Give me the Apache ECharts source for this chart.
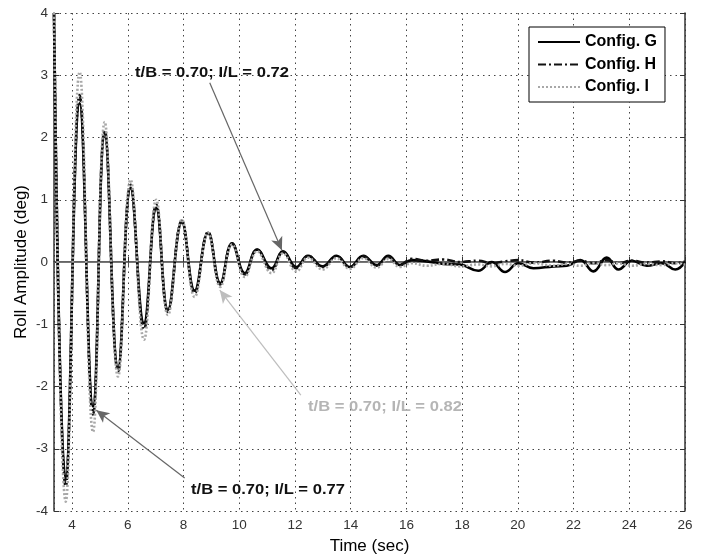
<!DOCTYPE html>
<html>
<head>
<meta charset="utf-8">
<script src="https://cdn.jsdelivr.net/npm/echarts@6/dist/echarts.min.js"></script>
<style>html,body{margin:0;padding:0;background:#fff}#c{width:707px;height:556px}</style>
</head>
<body>
<div id="c"></div>
<script>
// Time stamps (sec) of the read-off extrema
const time = [3.35, 3.77, 4.27, 4.75, 5.17, 5.65, 6.10, 6.58, 7.02, 7.44, 7.94, 8.40, 8.88, 9.32, 9.74, 10.20, 10.64, 11.16, 11.57, 12.05, 12.47, 12.99, 13.49, 13.97, 14.45, 14.93, 15.35, 15.77, 16.20, 16.73, 17.32, 17.92, 18.58, 19.06, 19.54, 20.02, 20.56, 21.28, 21.76, 22.24, 22.71, 23.19, 23.61, 24.09, 24.63, 25.17, 25.65, 26.00];
// Roll amplitude (deg)
const configG = [4.0, -3.50, 2.55, -2.32, 2.07, -1.70, 1.19, -0.98, 0.87, -0.77, 0.64, -0.46, 0.47, -0.34, 0.30, -0.18, 0.20, -0.10, 0.17, -0.08, 0.10, -0.07, 0.10, -0.08, 0.10, -0.05, 0.10, -0.05, 0.03, 0.01, -0.03, -0.04, -0.14, 0.00, -0.16, -0.02, -0.10, -0.07, -0.06, 0.03, -0.15, 0.07, -0.12, 0.02, -0.06, -0.02, -0.12, 0.00];
const configH = [4.0, -3.60, 2.68, -2.45, 2.12, -1.76, 1.24, -1.08, 0.92, -0.80, 0.66, -0.50, 0.48, -0.36, 0.30, -0.20, 0.20, -0.13, 0.16, -0.10, 0.10, -0.08, 0.09, -0.08, 0.09, -0.06, 0.08, -0.04, 0.05, 0.02, 0.04, 0.00, 0.02, -0.02, 0.01, 0.03, -0.01, 0.02, -0.01, 0.02, -0.02, 0.03, -0.02, 0.02, -0.01, 0.01, -0.02, 0.01];
const configI = [4.0, -3.85, 3.05, -2.73, 2.25, -1.84, 1.32, -1.25, 1.00, -0.85, 0.68, -0.56, 0.47, -0.40, 0.28, -0.24, 0.17, -0.18, 0.14, -0.15, 0.07, -0.12, 0.06, -0.11, 0.06, -0.09, 0.05, -0.08, -0.02, -0.06, -0.03, -0.07, -0.04, -0.07, -0.03, -0.06, -0.02, -0.06, -0.03, -0.06, -0.02, -0.05, -0.02, -0.06, -0.03, -0.05, -0.02, -0.04];
const seriesNames = ['Config. G', 'Config. H', 'Config. I'];
// Annotations: text and arrow (from -> to) in data coordinates
const annoText = ['t/B = 0.70; I/L = 0.72', 't/B = 0.70; I/L = 0.82', 't/B = 0.70; I/L = 0.77'];
const arrowFrom = [[8.94, 2.88], [12.21, -2.14], [8.04, -3.47]];
const arrowTo = [[11.53, 0.19], [9.30, -0.45], [4.87, -2.38]];

const FONT = '"Liberation Sans", Arial, Helvetica, sans-serif';
const pairs = arr => time.map((t, i) => [t, arr[i]]);

const chart = echarts.init(document.getElementById('c'), null, {renderer: 'canvas'});

const baseX = {
  type: 'value', min: 3.35, max: 26, splitNumber: 11, minInterval: 2, maxInterval: 2
};
const baseY = {
  type: 'value', min: -4, max: 4, interval: 1
};

const option = {
  animation: false,
  backgroundColor: '#fff',
  grid: {left: 54, right: 22, top: 13, bottom: 45, containLabel: false, outerBoundsMode: 'none'},
  legend: {
    data: seriesNames,
    orient: 'vertical',
    left: 529, top: 27,
    padding: [7, 8, 7, 8],
    itemWidth: 42, itemHeight: 16, itemGap: 6.5,
    backgroundColor: '#fff', borderColor: '#000', borderWidth: 1,
    itemStyle: {opacity: 0, borderWidth: 0},
    textStyle: {fontFamily: FONT, fontSize: 16, fontWeight: 'bold', color: '#000'},
    z: 10
  },
  xAxis: [
    Object.assign({}, baseX, {
      position: 'bottom',
      name: 'Time (sec)', nameLocation: 'middle', nameGap: 27, nameMoveOverlap: false,
      nameTextStyle: {fontFamily: FONT, fontSize: 17, color: '#000'},
      axisLine: {lineStyle: {color: '#333', width: 1.5}},
      axisTick: {inside: true, length: 5, lineStyle: {color: '#333'}},
      axisLabel: {showMinLabel: false, fontFamily: FONT, fontSize: 13.5, color: '#333', margin: 7},
      splitLine: {show: true, lineStyle: {color: '#444', type: [1.5, 4], width: 1}}
    }),
    Object.assign({}, baseX, {
      position: 'top',
      axisLine: {lineStyle: {color: '#777', width: 1.2}},
      axisTick: {inside: true, length: 5, lineStyle: {color: '#555'}},
      axisLabel: {show: false},
      splitLine: {show: false}
    })
  ],
  yAxis: [
    Object.assign({}, baseY, {
      position: 'left',
      name: 'Roll Amplitude (deg)', nameLocation: 'middle', nameGap: 24, nameMoveOverlap: false,
      nameTextStyle: {fontFamily: FONT, fontSize: 17, color: '#000'},
      axisLine: {lineStyle: {color: '#333', width: 1.5}},
      axisTick: {inside: true, length: 5, lineStyle: {color: '#333'}},
      axisLabel: {fontFamily: FONT, fontSize: 13.5, color: '#333', margin: 6},
      splitLine: {show: true, lineStyle: {color: '#444', type: [1.5, 4], width: 1}}
    }),
    Object.assign({}, baseY, {
      position: 'right',
      axisLine: {lineStyle: {color: '#333', width: 1.5}},
      axisTick: {inside: true, length: 5, lineStyle: {color: '#333'}},
      axisLabel: {show: false},
      splitLine: {show: false}
    })
  ],
  series: [
    {
      name: seriesNames[0], type: 'line', data: pairs(configG),
      smooth: 0.45, showSymbol: false, symbol: 'none',
      lineStyle: {color: '#000', width: 2.6, type: 'solid'},
      itemStyle: {color: '#000'}
    },
    {
      name: seriesNames[1], type: 'line', data: pairs(configH),
      smooth: 0.45, showSymbol: false, symbol: 'none',
      lineStyle: {color: '#111', width: 2.6, type: [8, 3, 2, 3]},
      itemStyle: {color: '#111'}
    },
    {
      name: seriesNames[2], type: 'line', data: pairs(configI),
      smooth: 0.45, showSymbol: false, symbol: 'none',
      lineStyle: {color: '#a8a8a8', width: 2.6, type: [2, 2]},
      itemStyle: {color: '#a8a8a8'}
    },
    {
      name: 'arrows', type: 'line', data: [], silent: true,
      markLine: {
        silent: true, animation: false,
        symbol: ['none', 'arrow'], symbolSize: [9, 13],
        label: {show: false},
        data: arrowFrom.map((f, i) => [
          {coord: f, lineStyle: {color: i === 1 ? '#bdbdbd' : '#666', width: 1.2, type: 'solid'}},
          {coord: arrowTo[i]}
        ])
      }
    }
  ],
  graphic: [
    {type: 'text', x: 135, y: 73, scaleX: 1.07, z: 20, style: {text: annoText[0], font: 'bold 15.5px ' + FONT, fill: '#111', verticalAlign: 'middle'}},
    {type: 'text', x: 308, y: 407, scaleX: 1.07, z: 20, style: {text: annoText[1], font: 'bold 15.5px ' + FONT, fill: '#b5b5b5', verticalAlign: 'middle'}},
    {type: 'text', x: 191, y: 490, scaleX: 1.07, z: 20, style: {text: annoText[2], font: 'bold 15.5px ' + FONT, fill: '#111', verticalAlign: 'middle'}}
  ]
};
chart.setOption(option);
</script>
</body>
</html>
